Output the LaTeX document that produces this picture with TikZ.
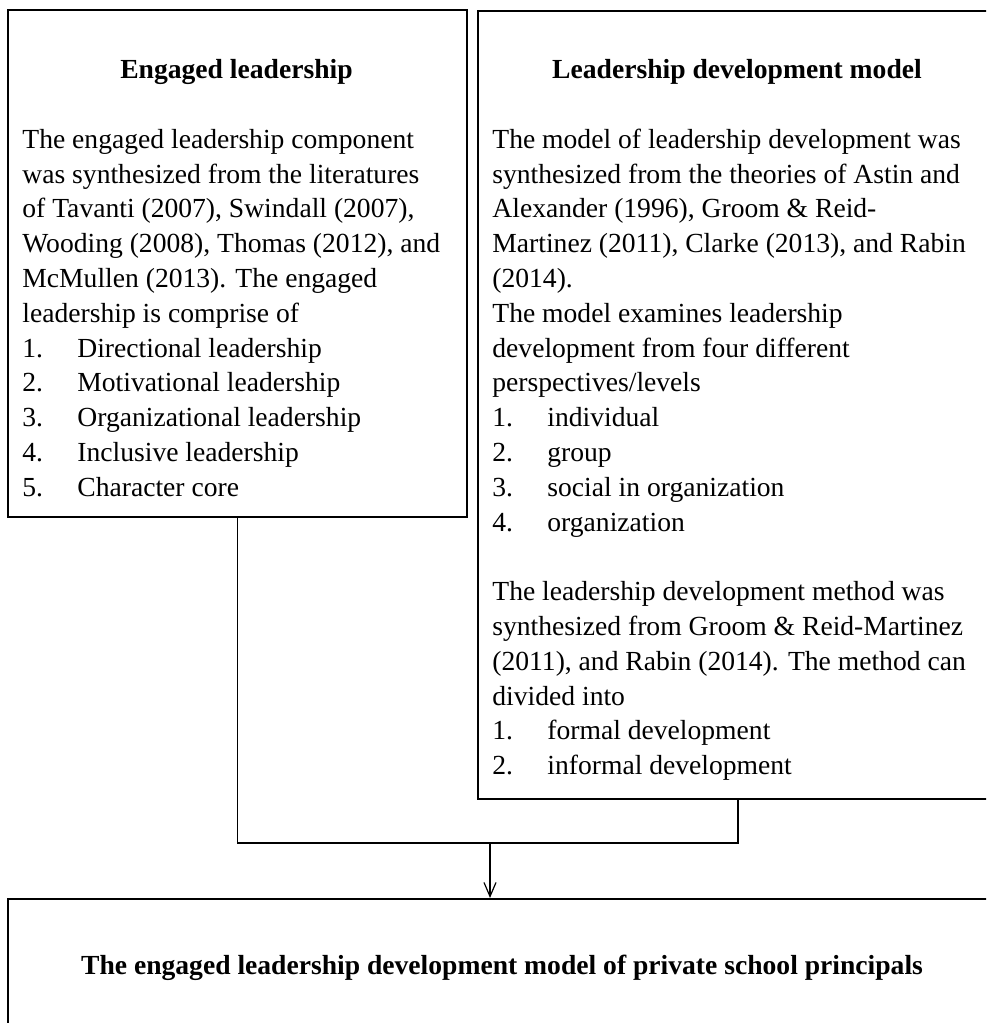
\documentclass[tikz,border=0pt]{standalone}
\usepackage{fontspec}
\setmainfont{Liberation Serif}
\usetikzlibrary{arrows.meta}
\newcommand{\listno}[1]{\makebox[27.5pt][l]{#1}}
\begin{document}
\begin{tikzpicture}[x=0.5pt,y=-0.5pt,
    box/.style={draw,line width=0.9pt,anchor=north west,inner sep=0pt},
    head/.style={font=\fontsize{13.8}{17.4}\selectfont\bfseries,anchor=base},
    body/.style={font=\fontsize{13.8}{17.4}\selectfont,align=left,anchor=north west,inner sep=0pt}]
  \useasboundingbox (0,0) rectangle (986,1023);
  \clip (0,0) rectangle (986,1023);
  \node[box,minimum width=229.5pt,minimum height=253.5pt] (engaged) at (7,9) {};
  \node[box,minimum width=260pt,minimum height=394pt] (model) at (477,10) {};
  \node[box,minimum width=495pt,minimum height=125pt] (result) at (7,898) {};
  \node[head] (engagedhead) at (236.5,78) {Engaged leadership};
  \node[head] (modelhead) at (737,78) {Leadership development model};
  \node[head] (resulthead) at (502,974) {The engaged leadership development model of private school principals};
  \node[body] (engagedtext) at (22,123.6) {\strut The engaged leadership component\\
    was synthesized from the literatures\\
    of Tavanti (2007), Swindall (2007),\\
    Wooding (2008), Thomas (2012), and\\
    McMullen (2013). The engaged\\
    leadership is comprise of\\
    \listno{1.}Directional leadership\\
    \listno{2.}Motivational leadership\\
    \listno{3.}Organizational leadership\\
    \listno{4.}Inclusive leadership\\
    \listno{5.}Character core};
  \node[body] (modeltext) at (492,123.6) {\strut The model of leadership development was\\
    synthesized from the theories of Astin and\\
    Alexander (1996), Groom \& Reid-\\
    Martinez (2011), Clarke (2013), and Rabin\\
    (2014).\\
    The model examines leadership\\
    development from four different\\
    perspectives/levels\\
    \listno{1.}individual\\
    \listno{2.}group\\
    \listno{3.}social in organization\\
    \listno{4.}organization\\
    \mbox{}\\
    The leadership development method was\\
    synthesized from Groom \& Reid-Martinez\\
    (2011), and Rabin (2014). The method can\\
    divided into\\
    \listno{1.}formal development\\
    \listno{2.}informal development};
  \coordinate (merge) at (490,843);
  \draw[line width=0.9pt] (engaged.south) |- (merge) -| (model.south);
  \draw[line width=0.6pt,-{Straight Barb[length=7pt,width=6pt]}] (merge) -- (merge |- result.north);
\end{tikzpicture}
\end{document}
